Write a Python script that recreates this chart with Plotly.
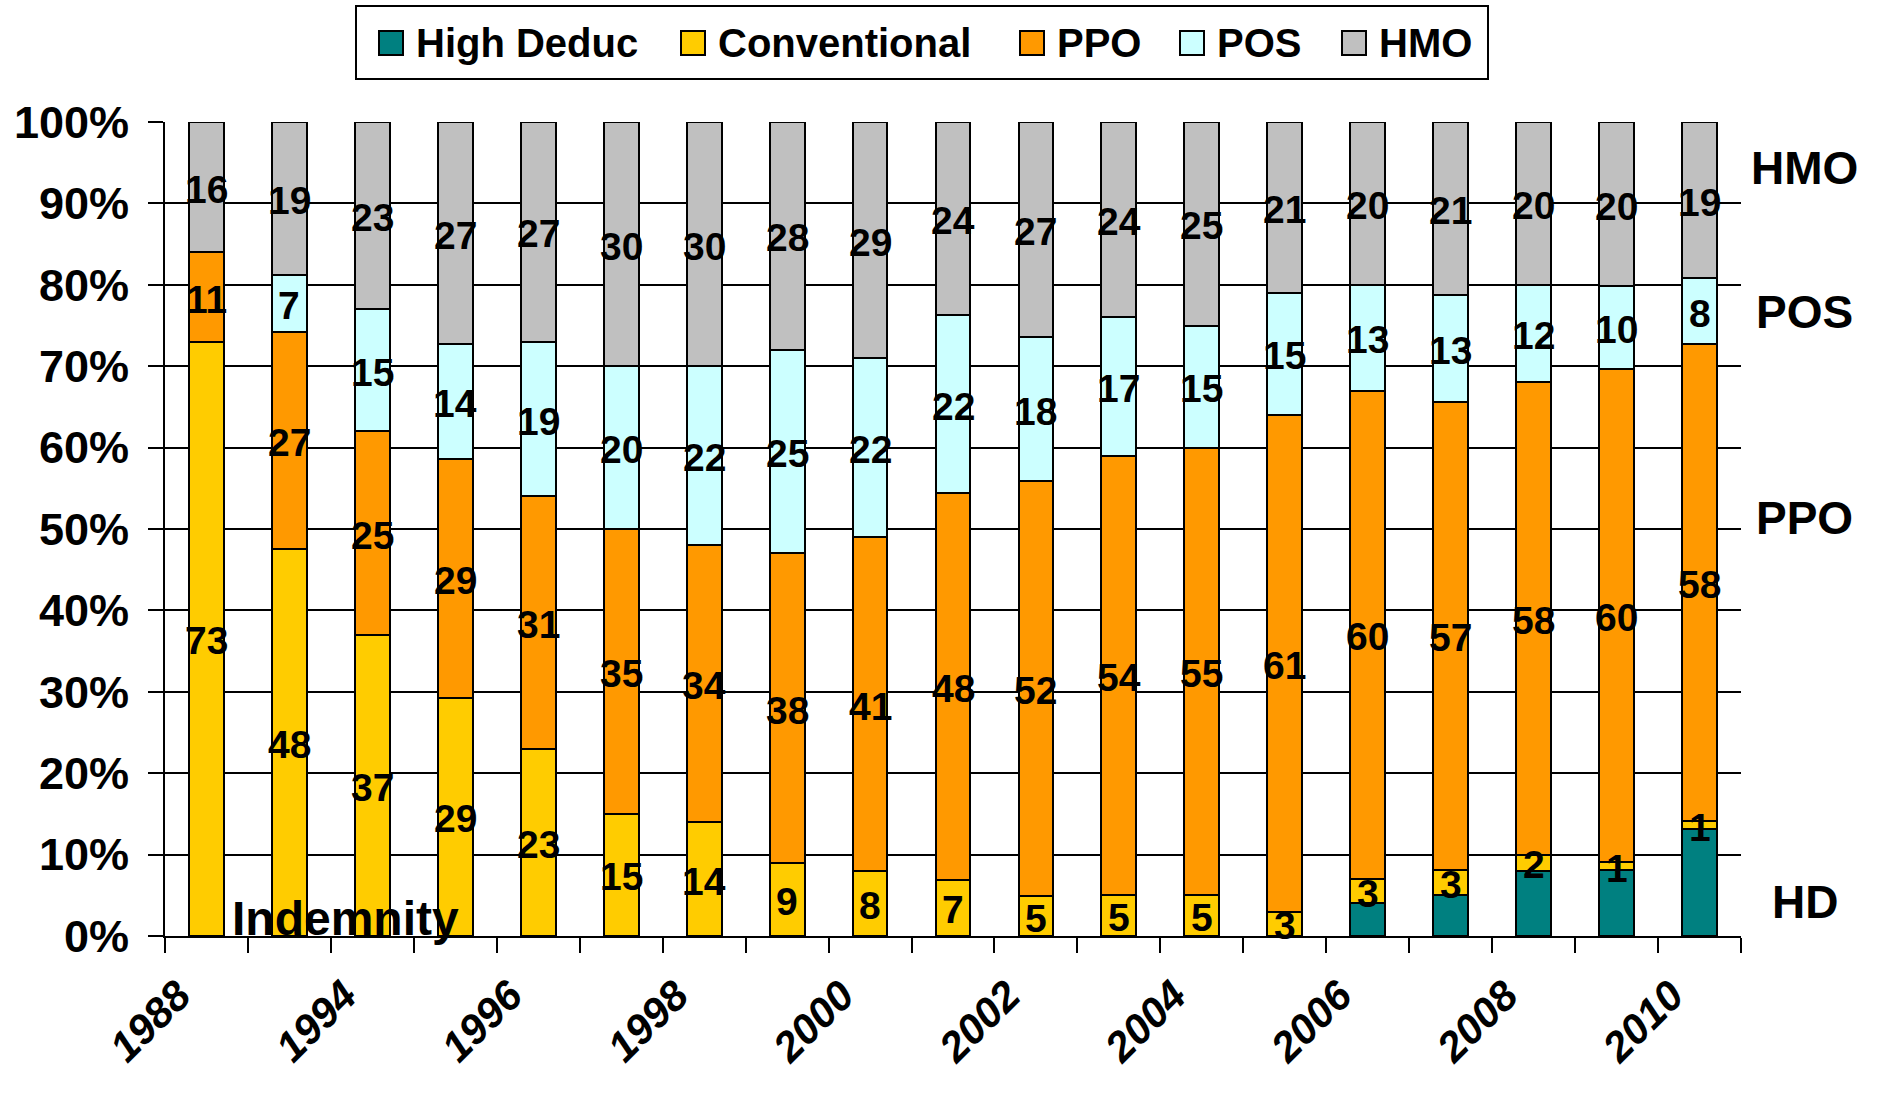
import numpy as np
import plotly.graph_objects as go

# Survey years, one bar each
years = [1988, 1993, 1994, 1995, 1996, 1997, 1998, 1999, 2000, 2001,
         2002, 2003, 2004, 2005, 2006, 2007, 2008, 2009, 2010]

# Share of covered workers by plan type (%)
high_deduc = [0, 0, 0, 0, 0, 0, 0, 0, 0, 0, 0, 0, 0, 0, 4, 5, 8, 8, 13]
conventional = [73, 48, 37, 29, 23, 15, 14, 9, 8, 7, 5, 5, 5, 3, 3, 3, 2, 1, 1]
ppo = [11, 27, 25, 29, 31, 35, 34, 38, 41, 48, 52, 54, 55, 61, 60, 57, 58, 60, 58]
pos = [0, 7, 15, 14, 19, 20, 22, 25, 22, 22, 18, 17, 15, 15, 13, 13, 12, 10, 8]
hmo = [16, 19, 23, 27, 27, 30, 30, 28, 29, 24, 27, 24, 25, 21, 20, 21, 20, 20, 19]

series_names = ["High Deduc", "Conventional", "PPO", "POS", "HMO"]
series_values = [high_deduc, conventional, ppo, pos, hmo]
series_colors = ["#008080", "#FFCC00", "#FF9900", "#CCFFFF", "#C0C0C0"]
labelled = [False, True, True, True, True]

# y-axis ticks
y_ticks = list(range(0, 101, 10))
y_ticktext = [f"{v}%" for v in y_ticks]

# Labels down the right-hand side: (text, level in %)
side_labels = [("HMO", 94.3), ("POS", 76.7), ("PPO", 51.4), ("HD", 4.2)]

FONT = "Liberation Sans, Arial, Helvetica, sans-serif"
W, H = 1881, 1106
L, R, T, B = 165, 140, 122, 170
PW, PH = W - L - R, H - T - B

x = np.arange(len(years))

fig = go.Figure()
for name, vals, col in zip(series_names, series_values, series_colors):
    fig.add_trace(go.Bar(
        x=x, y=vals, name=name, marker=dict(color=col, line=dict(color="black", width=2)),
        showlegend=False, hoverinfo="skip",
    ))

# Segment value labels, centred on each normalised segment
vals = np.array(series_values, dtype=float)
shares = vals / vals.sum(axis=0) * 100
bottoms = np.cumsum(shares, axis=0) - shares
for i, name in enumerate(series_names):
    if not labelled[i]:
        continue
    for j in range(len(years)):
        if vals[i, j] <= 0:
            continue
        fig.add_annotation(
            xref="x", yref="y", x=x[j], y=bottoms[i, j] + shares[i, j] / 2,
            text=str(int(vals[i, j])), showarrow=False,
            xanchor="center", yanchor="middle", yshift=-2,
            font=dict(family=FONT, size=39, color="black", weight="bold"),
        )

fig.update_layout(
    width=W, height=H,
    margin=dict(l=L, r=R, t=T, b=B),
    barmode="stack", barnorm="percent", bargap=0.58,
    plot_bgcolor="white", paper_bgcolor="white",
    font=dict(family=FONT, color="black"),
)

fig.update_yaxes(
    range=[0, 100], tickvals=y_ticks, ticktext=y_ticktext,
    showgrid=True, gridcolor="black", gridwidth=2,
    ticks="outside", ticklen=15, tickwidth=2, tickcolor="black",
    showline=True, linecolor="black", linewidth=2,
    zeroline=False, ticklabelstandoff=10,
    tickfont=dict(family=FONT, size=45, color="black", weight="bold"),
)

fig.update_xaxes(
    range=[-0.5, len(years) - 0.5],
    tickvals=list(x[::2]), ticktext=[str(y) for y in years[::2]],
    tickangle=-45, ticks="", ticklabelstandoff=16, ticklabelshift=-28,
    tickfont=dict(family=FONT, size=42, color="black", weight="bold", style="italic"),
    showline=True, linecolor="black", linewidth=2, showgrid=False, zeroline=False,
    minor=dict(tickvals=[i - 0.5 for i in range(len(years) + 1)], ticks="outside",
               ticklen=15, tickwidth=2, tickcolor="black", showgrid=False),
)


def px_x(px):
    return (px - L) / PW


def px_y(py):
    return (H - B - py) / PH


# Legend box with swatches and names
box = dict(x0=356, x1=1488, y0=6, y1=79)
fig.add_shape(type="rect", xref="paper", yref="paper",
              x0=px_x(box["x0"]), x1=px_x(box["x1"]), y0=px_y(box["y1"]), y1=px_y(box["y0"]),
              line=dict(color="black", width=2), fillcolor="white", layer="above")
swatch_left = [379, 681, 1020, 1180, 1342]
for sx, name, col in zip(swatch_left, series_names, series_colors):
    fig.add_shape(type="rect", xref="paper", yref="paper",
                  x0=px_x(sx), x1=px_x(sx + 24), y0=px_y(55), y1=px_y(31),
                  line=dict(color="black", width=2), fillcolor=col, layer="above")
    fig.add_annotation(xref="paper", yref="paper", x=px_x(sx + 35), y=px_y(43),
                       text=name, showarrow=False, xanchor="left", yanchor="middle",
                       font=dict(family=FONT, size=40, color="black", weight="bold"))

for text, level in side_labels:
    fig.add_annotation(xref="paper", yref="y", x=px_x(1805), y=level, text=text,
                       showarrow=False, xanchor="center", yanchor="middle",
                       font=dict(family=FONT, size=46, color="black", weight="bold"))

fig.add_annotation(xref="x", yref="y", x=1.67, y=2.2, text="Indemnity",
                   showarrow=False, xanchor="center", yanchor="middle",
                   font=dict(family=FONT, size=48, color="black", weight="bold"))

fig.write_html("out.html")
